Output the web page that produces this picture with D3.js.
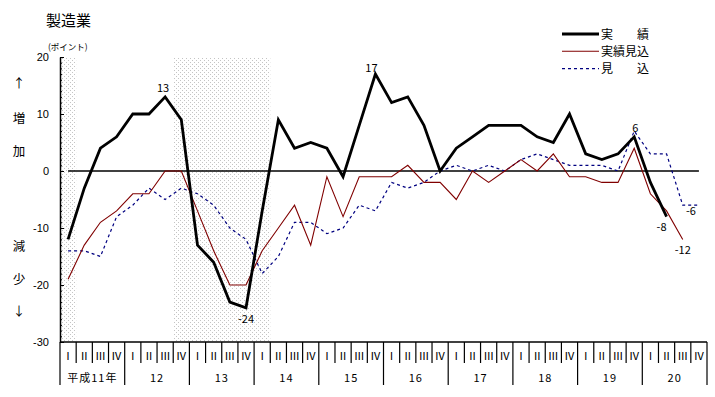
<!DOCTYPE html>
<html><head><meta charset="utf-8">
<script src="https://cdn.jsdelivr.net/npm/d3@7"></script>
<style>
html,body{margin:0;padding:0;background:#fff;}
svg{display:block;font-family:"Noto Sans CJK JP","Noto Sans",sans-serif;}
</style></head>
<body>
<svg id="chart" width="715" height="397"></svg>
<script>
// ---- data ----
const quarterLabels = ["Ⅰ","Ⅱ","Ⅲ","Ⅳ"];
const yearLabels = ["平成11年","12","13","14","15","16","17","18","19","20"];
const yTickValues = [20,10,0,-10,-20,-30];
const seriesNames = ["実　　績","実績見込","見　　込"];
// 実績 (actual)
const jisseki = [-12,-3,4,6, 10,10,13,9, -13,-16,-23,-24, -7,9,4,5, 4,-1,8,17, 12,13,8,0, 4,6,8,8, 8,6,5,10, 3,2,3,6, -2,-8,null,null];
// 実績見込 (estimated actual)
const jissekiMikomi = [-19,-13,-9,-7, -4,-4,0,0, -7,-14,-20,-20, -14,-10,-6,-13, -1,-8,-1,-1, -1,1,-2,-2, -5,0,-2,0, 2,0,3,-1, -1,-2,-2,4, -4,-7,-12,null];
// 見込 (forecast)
const mikomi = [-14,-14,-15,-8, -6,-3,-5,-3, -4,-6,-10,-12, -18,-15,-9,-9, -11,-10,-6,-7, -2,-3,-2,0, 1,0,1,0, 2,3,2,1, 1,1,0,7, 3,3,-6,-6];
// shaded (recession) quarter index ranges
const shadedRanges = [[0,0],[7,12]];

// ---- layout ----
const svg = d3.select("#chart");
const n = yearLabels.length * 4;
const x = d3.scaleBand().domain(d3.range(n)).range([60, 707]).padding(0);
const cx = i => x(i) + x.bandwidth() / 2;
const y = d3.scaleLinear().domain([-30, 20]).range([342, 57]);

// pattern for shading
const defs = svg.append("defs");
const pat = defs.append("pattern").attr("id","dots").attr("patternUnits","userSpaceOnUse")
  .attr("width",4).attr("height",4);
pat.append("rect").attr("x",0).attr("y",0).attr("width",1).attr("height",1).attr("fill","#c4c4c4");
pat.append("rect").attr("x",2).attr("y",2).attr("width",1).attr("height",1).attr("fill","#c4c4c4");

svg.append("g").selectAll("rect").data(shadedRanges).join("rect")
  .attr("x", d => x(d[0]))
  .attr("width", d => x(d[1]) + x.bandwidth() - x(d[0]))
  .attr("y", y(20)).attr("height", y(-30) - y(20))
  .attr("fill", "url(#dots)");

// zero line
svg.append("line")
  .attr("x1", cx(0)).attr("x2", cx(n-1))
  .attr("y1", y(0)).attr("y2", y(0))
  .attr("stroke","#000").attr("stroke-width",1.3);

// lines
const line = d3.line().defined(d => d != null).x((d,i) => cx(i)).y(d => y(d));
svg.append("path").datum(mikomi).attr("d", line)
  .attr("fill","none").attr("stroke","#000080").attr("stroke-width",1.2).attr("stroke-dasharray","3,3");
svg.append("path").datum(jissekiMikomi).attr("d", line)
  .attr("fill","none").attr("stroke","#800000").attr("stroke-width",1.1);
svg.append("path").datum(jisseki).attr("d", line)
  .attr("fill","none").attr("stroke","#000").attr("stroke-width",2.8).attr("stroke-linejoin","miter");

// y axis
const yAxis = svg.append("g").attr("transform","translate(60,0)")
  .call(d3.axisLeft(y).tickValues(yTickValues).tickSize(-4).tickSizeOuter(0).tickPadding(11)
        .tickFormat(d => String(d)));
yAxis.select(".domain").attr("stroke","#000").attr("stroke-width",1.5);
yAxis.selectAll("text").attr("font-size",11).attr("fill","#000");
const yMinor = svg.append("g").attr("transform","translate(60,0)")
  .call(d3.axisLeft(y).tickValues(d3.range(-30,21)).tickSize(-2).tickFormat(""));
yMinor.select(".domain").remove();

// x axis
svg.append("line").attr("x1",60).attr("x2",707).attr("y1",y(-30)).attr("y2",y(-30))
  .attr("stroke","#000").attr("stroke-width",1.5);
const bounds = d3.range(n+1);
svg.append("g").selectAll("line").data(bounds).join("line")
  .attr("x1", k => k < n ? x(k) : x.range()[1])
  .attr("x2", k => k < n ? x(k) : x.range()[1])
  .attr("y1", y(-30))
  .attr("y2", k => k % 4 === 0 ? 385 : 363)
  .attr("stroke","#000").attr("stroke-width",1.2);
svg.append("g").selectAll("text").data(d3.range(n)).join("text")
  .attr("x", i => cx(i)).attr("y", 360)
  .attr("text-anchor","middle").attr("font-size",11)
  .text(i => quarterLabels[i % 4]);
svg.append("g").selectAll("text").data(yearLabels).join("text")
  .attr("x", (d,j) => (x(j*4) + x(j*4+3) + x.bandwidth()) / 2)
  .attr("y", 381.5)
  .attr("text-anchor","middle").attr("font-size",11).attr("letter-spacing",1)
  .text(d => d);

// title and axis captions
svg.append("text").attr("x",46).attr("y",26).attr("font-size",15).text("製造業");
svg.append("text").attr("x",48).attr("y",50).attr("font-size",8.5).text("(ポイント)");
const sideLabels = [["↑",88],["増",123],["加",156],["減",251],["少",284],["↓",316]];
svg.append("g").selectAll("text").data(sideLabels).join("text")
  .attr("x",19).attr("y",d => d[1]).attr("text-anchor","middle").attr("font-size",12.5)
  .text(d => d[0]);

// legend
const legendStyles = [
  {stroke:"#000", w:2.8, dash:null},
  {stroke:"#800000", w:1.1, dash:null},
  {stroke:"#000080", w:1.2, dash:"3,3"}
];
const lg = svg.append("g").selectAll("g").data(seriesNames).join("g")
  .attr("transform",(d,i) => `translate(0,${34 + i*17.3})`);
lg.append("line").attr("x1",562).attr("x2",599).attr("y1",0).attr("y2",0)
  .attr("stroke",(d,i)=>legendStyles[i].stroke).attr("stroke-width",(d,i)=>legendStyles[i].w)
  .attr("stroke-dasharray",(d,i)=>legendStyles[i].dash);
lg.append("text").attr("x",601).attr("y",4.5).attr("font-size",12).text(d => d);

// value annotations
const seriesMap = {jisseki, jissekiMikomi, mikomi};
const annotations = [
  {s:"jisseki", i:6, dx:-2, dy:-4.5},
  {s:"jisseki", i:11, dx:0, dy:15},
  {s:"jisseki", i:19, dx:-4, dy:-2},
  {s:"jisseki", i:35, dx:1, dy:-5},
  {s:"jisseki", i:37, dx:-5, dy:14},
  {s:"jissekiMikomi", i:38, dx:0, dy:15},
  {s:"mikomi", i:39, dx:-8, dy:10}
];
svg.append("g").selectAll("text").data(annotations).join("text")
  .attr("x", d => cx(d.i) + d.dx)
  .attr("y", d => y(seriesMap[d.s][d.i]) + d.dy)
  .attr("text-anchor","middle").attr("font-size",11)
  .text(d => String(seriesMap[d.s][d.i]));
</script>
</body></html>
